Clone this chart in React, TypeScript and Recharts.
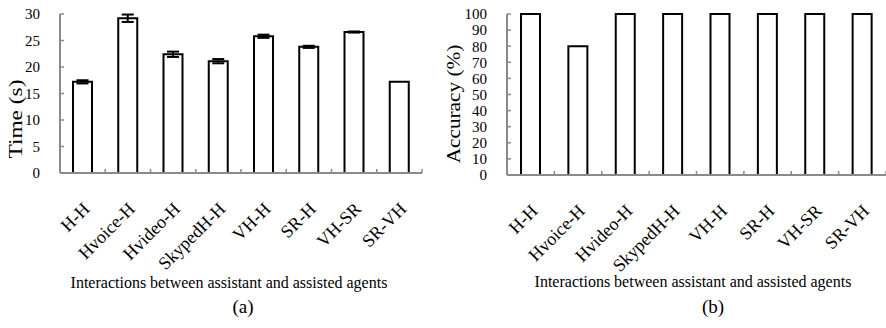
import React from "react";
import { BarChart, Bar, XAxis, YAxis, ErrorBar } from "recharts";

const categories = [
  "H-H",
  "Hvoice-H",
  "Hvideo-H",
  "SkypedH-H",
  "VH-H",
  "SR-H",
  "VH-SR",
  "SR-VH",
];
const timeValues = [17.2, 29.2, 22.4, 21.1, 25.8, 23.8, 26.6, 17.2];
const timeErrors = [0.3, 0.7, 0.5, 0.4, 0.3, 0.2, 0.1, 0];
const accuracyValues = [100, 80, 100, 100, 100, 100, 100, 100];
const timeTicks = [0, 5, 10, 15, 20, 25, 30];
const accuracyTicks = [0, 10, 20, 30, 40, 50, 60, 70, 80, 90, 100];

const FONT = '"Liberation Serif", "Times New Roman", serif';
const AXIS_GRAY = "#8a8a8a";
const Y_GAP = 20;

const timeData = categories.map((name, i) => ({
  name,
  value: timeValues[i],
  err: timeErrors[i],
}));
const accuracyData = categories.map((name, i) => ({
  name,
  value: accuracyValues[i],
}));

// category label, rotated like Excel, plus inward tick marks on the band edges
const RotatedTick = (props: any) => {
  const { x, y, payload, index, visibleTicksCount } = props;
  const half = payload.offset || 0;
  const px = x + 8;
  const py = y + 37;
  const isLast = index === (visibleTicksCount ?? categories.length) - 1;
  return (
    <g>
      <line x1={x - half} x2={x - half} y1={y} y2={y - 4} stroke={AXIS_GRAY} strokeWidth={1.5} />
      {isLast && (
        <line x1={x + half} x2={x + half} y1={y} y2={y - 4} stroke={AXIS_GRAY} strokeWidth={1.5} />
      )}
      <text
        x={px}
        y={py}
        transform={`rotate(-45, ${px}, ${py})`}
        textAnchor="end"
        fontFamily={FONT}
        fontSize={18}
        fill="#000"
      >
        {payload.value}
      </text>
    </g>
  );
};

const ValueTick = (props: any) => {
  const { x, y, payload } = props;
  const axisX = x + Y_GAP;
  return (
    <g>
      <line x1={axisX} x2={axisX + 4} y1={y} y2={y} stroke={AXIS_GRAY} strokeWidth={1.5} />
      <text
        x={x}
        y={y}
        dy="0.355em"
        textAnchor="end"
        fontFamily={FONT}
        fontSize={15}
        fill="#000"
      >
        {payload.value}
      </text>
    </g>
  );
};

type PanelProps = {
  data: { name: string; value: number; err?: number }[];
  width: number;
  yWidth: number;
  bottom: number;
  right: number;
  domain: [number, number];
  ticks: number[];
  withErrors?: boolean;
};

const Panel: React.FC<PanelProps> = ({
  data,
  width,
  yWidth,
  bottom,
  right,
  domain,
  ticks,
  withErrors,
}) => (
  <BarChart
    width={width}
    height={328}
    data={data}
    margin={{ top: 14, right, left: 0, bottom }}
    barSize={19}
  >
    <XAxis
      dataKey="name"
      height={80}
      interval={0}
      axisLine={{ stroke: AXIS_GRAY, strokeWidth: 2 }}
      tickLine={false}
      tickSize={0}
      tickMargin={0}
      tick={<RotatedTick />}
    />
    <YAxis
      width={yWidth}
      domain={domain}
      ticks={ticks}
      interval={0}
      axisLine={{ stroke: AXIS_GRAY, strokeWidth: 2 }}
      tickLine={false}
      tickSize={0}
      tickMargin={Y_GAP}
      tick={<ValueTick />}
    />
    <Bar
      dataKey="value"
      fill="#fff"
      stroke="#000"
      strokeWidth={2}
      isAnimationActive={false}
    >
      {withErrors && (
        <ErrorBar
          dataKey="err"
          width={6}
          stroke="#000"
          strokeWidth={2}
          isAnimationActive={false}
        />
      )}
    </Bar>
  </BarChart>
);

const textStyle: React.CSSProperties = {
  position: "absolute",
  fontFamily: FONT,
  lineHeight: 1,
  whiteSpace: "nowrap",
  color: "#000",
};

export default function App() {
  return (
    <div
      style={{
        position: "absolute",
        left: 0,
        top: 0,
        width: 886,
        height: 328,
        background: "#fff",
        overflow: "hidden",
      }}
    >
      <div style={{ display: "flex" }}>
        <Panel
          data={timeData}
          width={440}
          yWidth={60}
          bottom={75}
          right={18}
          domain={[0, 30]}
          ticks={timeTicks}
          withErrors
        />
        <Panel
          data={accuracyData}
          width={446}
          yWidth={67}
          bottom={73}
          right={0}
          domain={[0, 100]}
          ticks={accuracyTicks}
        />
      </div>

      {/* y axis titles */}
      <div
        style={{
          ...textStyle,
          fontSize: 19,
          left: 15,
          top: 119,
          transform: "translate(-50%, -50%) rotate(-90deg) scaleX(1.23)",
        }}
      >
        Time (s)
      </div>
      <div
        style={{
          ...textStyle,
          fontSize: 19,
          left: 453,
          top: 104,
          transform: "translate(-50%, -50%) rotate(-90deg) scaleX(1.12)",
        }}
      >
        Accuracy (%)
      </div>

      {/* x axis titles */}
      <div
        style={{ ...textStyle, fontSize: 16, left: 29, width: 400, top: 275, textAlign: "center" }}
      >
        Interactions between assistant and assisted agents
      </div>
      <div
        style={{ ...textStyle, fontSize: 16, left: 493, width: 400, top: 274, textAlign: "center" }}
      >
        Interactions between assistant and assisted agents
      </div>

      {/* panel captions */}
      <div
        style={{ ...textStyle, fontSize: 19, left: 193, width: 100, top: 297, textAlign: "center" }}
      >
        (a)
      </div>
      <div
        style={{ ...textStyle, fontSize: 19, left: 663, width: 100, top: 297, textAlign: "center" }}
      >
        (b)
      </div>
    </div>
  );
}
